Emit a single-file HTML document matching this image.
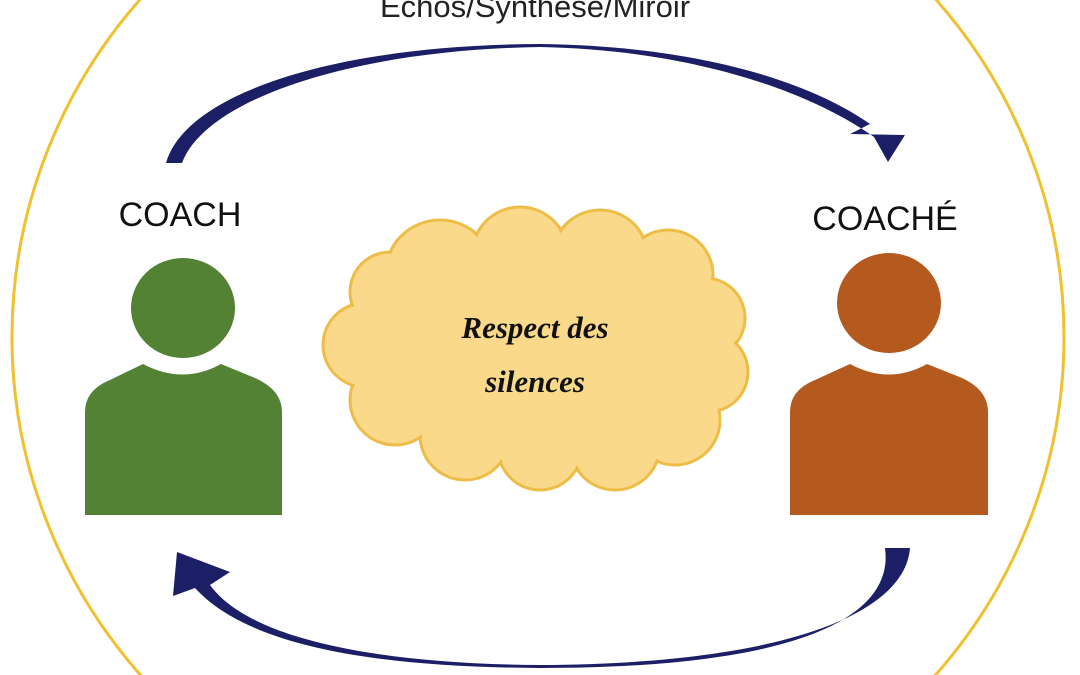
<!DOCTYPE html>
<html><head><meta charset="utf-8"><style>
html,body{margin:0;padding:0;background:#fff;width:1080px;height:675px;overflow:hidden;}
svg{display:block}
</style></head><body>
<svg width="1080" height="675" viewBox="0 0 1080 675" xmlns="http://www.w3.org/2000/svg">
<rect width="1080" height="675" fill="#fff"/>
<ellipse cx="538" cy="337" rx="526" ry="516" fill="none" stroke="#f0c030" stroke-width="3"/>
<text x="535" y="17" font-family="Liberation Sans, sans-serif" font-size="31" text-anchor="middle" fill="#222">Echos/Synthèse/Miroir</text>
<path d="M166,163 C185,95 330,45 540,44 C700,46 810,82 870,124 L850,134 L905,135 L888,162 L874,137 C815,95 700,50 540,47 C350,50 205,100 182,163 Z" fill="#1c1f66"/>
<path d="M910,548 C905,615 780,664 540,665 C380,664 250,640 210,585 L230,572 L177,552 L173,596 L195,588 C250,648 380,667 540,668 C790,668 895,620 885,548 Z" fill="#1c1f66"/>
<text x="180" y="226" font-family="Liberation Sans, sans-serif" font-size="34" text-anchor="middle" fill="#111">COACH</text>
<text x="885" y="230" font-family="Liberation Sans, sans-serif" font-size="34" text-anchor="middle" fill="#111">COACHÉ</text>
<ellipse cx="183" cy="308" rx="52" ry="50" fill="#548235"/>
<path d="M85,515 L85,412 Q85,390 110,380 L143,364 Q183,385 221,364 L255,378 Q282,390 282,412 L282,515 Z" fill="#548235"/>
<ellipse cx="889" cy="303" rx="52" ry="50" fill="#b55a1f"/>
<path d="M790,515 L790,412 Q790,390 815,380 L850,364 Q889,385 927,364 L962,378 Q988,390 988,412 L988,515 Z" fill="#b55a1f"/>
<g stroke="#eebd48" stroke-width="3" fill="#fbd98b">
<circle cx="440" cy="275" r="55"/><circle cx="520" cy="255" r="48"/><circle cx="600" cy="258" r="48"/>
<circle cx="668" cy="275" r="45"/><circle cx="705" cy="318" r="40"/><circle cx="708" cy="372" r="40"/>
<circle cx="675" cy="420" r="45"/><circle cx="615" cy="445" r="45"/><circle cx="540" cy="448" r="42"/>
<circle cx="465" cy="435" r="45"/><circle cx="395" cy="400" r="45"/><circle cx="365" cy="345" r="42"/><circle cx="390" cy="292" r="40"/>
</g>
<g fill="#fbd98b">
<circle cx="440" cy="275" r="53"/><circle cx="520" cy="255" r="46"/><circle cx="600" cy="258" r="46"/>
<circle cx="668" cy="275" r="43"/><circle cx="705" cy="318" r="38"/><circle cx="708" cy="372" r="38"/>
<circle cx="675" cy="420" r="43"/><circle cx="615" cy="445" r="43"/><circle cx="540" cy="448" r="40"/>
<circle cx="465" cy="435" r="43"/><circle cx="395" cy="400" r="43"/><circle cx="365" cy="345" r="40"/><circle cx="390" cy="292" r="38"/>
<ellipse cx="540" cy="350" rx="170" ry="100"/>
</g>
<text x="535" y="338" font-family="Liberation Serif, serif" font-style="italic" font-weight="bold" font-size="31" text-anchor="middle" fill="#111">Respect des</text>
<text x="535" y="392" font-family="Liberation Serif, serif" font-style="italic" font-weight="bold" font-size="31" text-anchor="middle" fill="#111">silences</text>
</svg>
</body></html>
